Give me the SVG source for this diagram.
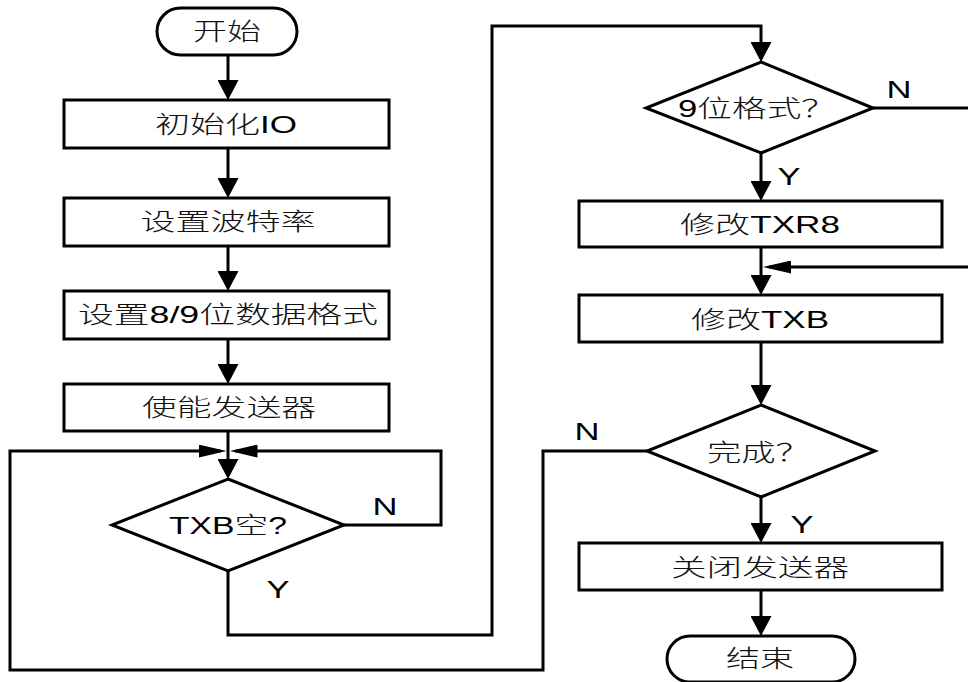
<svg xmlns="http://www.w3.org/2000/svg" width="968" height="682" viewBox="0 0 968 682">
<style>
.shape{fill:#fff;stroke:#000;stroke-width:3}
.conn{fill:none;stroke:#000;stroke-width:3}
text{font-family:'Liberation Sans','Noto Sans CJK SC',sans-serif;font-size:24px;fill:#000}
.k{font-family:'Noto Sans CJK SC',sans-serif;font-weight:300;fill:#111}
.c{text-anchor:middle}
</style>
<defs>
<marker id="arrV" markerUnits="userSpaceOnUse" markerWidth="20" markerHeight="21" viewBox="0 0 20 21" refX="14" refY="10.5" orient="auto"><path d="M0,0 L20,10.5 L0,21 Z" fill="#000"/></marker>
<marker id="arrH" markerUnits="userSpaceOnUse" markerWidth="28" markerHeight="13" viewBox="0 0 28 13" refX="22" refY="6.5" orient="auto"><path d="M0,0 L28,6.5 L0,13 Z" fill="#000"/></marker>
</defs>
<g id="connectors">
<path class="conn" d="M228,55 V94" marker-end="url(#arrV)"/>
<path class="conn" d="M228,148 V192" marker-end="url(#arrV)"/>
<path class="conn" d="M228,246 V285" marker-end="url(#arrV)"/>
<path class="conn" d="M228,339 V378" marker-end="url(#arrV)"/>
<path class="conn" d="M228,431 V473" marker-end="url(#arrV)"/>
<path class="conn" d="M647,451 H543 V670 H10 V451 H220.5" marker-end="url(#arrH)"/>
<path class="conn" d="M344,525 H441 V451 H235.5" marker-end="url(#arrH)"/>
<path class="conn" d="M228,571 V635 H492 V26 H761 V56" marker-end="url(#arrV)"/>
<path class="conn" d="M761,153 V195" marker-end="url(#arrV)"/>
<path class="conn" d="M873,108 H972 V267 H769" marker-end="url(#arrH)"/>
<path class="conn" d="M761,247 V289" marker-end="url(#arrV)"/>
<path class="conn" d="M761,342 V399" marker-end="url(#arrV)"/>
<path class="conn" d="M761,497 V537" marker-end="url(#arrV)"/>
<path class="conn" d="M761,590 V630" marker-end="url(#arrV)"/>
<text class="c" x="385" y="515" textLength="25" lengthAdjust="spacingAndGlyphs">N</text>
<text class="c" x="278" y="598" textLength="23" lengthAdjust="spacingAndGlyphs">Y</text>
<text class="c" x="899" y="98" textLength="25" lengthAdjust="spacingAndGlyphs">N</text>
<text class="c" x="789" y="185" textLength="23" lengthAdjust="spacingAndGlyphs">Y</text>
<text class="c" x="587" y="440" textLength="25" lengthAdjust="spacingAndGlyphs">N</text>
<text class="c" x="802" y="533" textLength="23" lengthAdjust="spacingAndGlyphs">Y</text>
</g>
<g id="start">
<rect class="shape" x="157" y="8" width="140" height="47" rx="23.5"/>
<text class="c" x="227" y="40" textLength="68" lengthAdjust="spacingAndGlyphs"><tspan class="k">开始</tspan></text>
</g>
<g id="initIO">
<rect class="shape" x="64" y="100" width="325" height="48"/>
<text class="c" x="226" y="133" textLength="142" lengthAdjust="spacingAndGlyphs"><tspan class="k">初始化</tspan>IO</text>
</g>
<g id="setBaud">
<rect class="shape" x="64" y="198" width="325" height="48"/>
<text class="c" x="228" y="230" textLength="175" lengthAdjust="spacingAndGlyphs"><tspan class="k">设置波特率</tspan></text>
</g>
<g id="setFormat">
<rect class="shape" x="64" y="291" width="325" height="48"/>
<text class="c" x="228" y="323" textLength="300" lengthAdjust="spacingAndGlyphs"><tspan class="k">设置</tspan>8/9<tspan class="k">位数据格式</tspan></text>
</g>
<g id="enableTx">
<rect class="shape" x="64" y="384" width="325" height="47"/>
<text class="c" x="229" y="416" textLength="174" lengthAdjust="spacingAndGlyphs"><tspan class="k">使能发送器</tspan></text>
</g>
<g id="txbEmpty">
<polygon class="shape" points="228,479 344,525 228,571 112,525"/>
<text class="c" x="228" y="534" textLength="118" lengthAdjust="spacingAndGlyphs">TXB<tspan class="k">空</tspan>?</text>
</g>
<g id="nineBit">
<polygon class="shape" points="761,62 873,108 761,153 646,108"/>
<text x="678" y="117" textLength="158" lengthAdjust="spacingAndGlyphs">9<tspan class="k">位格式？</tspan></text>
</g>
<g id="modTXR8">
<rect class="shape" x="579" y="201" width="363" height="46"/>
<text class="c" x="760" y="233" textLength="160" lengthAdjust="spacingAndGlyphs"><tspan class="k">修改</tspan>TXR8</text>
</g>
<g id="modTXB">
<rect class="shape" x="579" y="295" width="363" height="47"/>
<text class="c" x="760" y="328" textLength="138" lengthAdjust="spacingAndGlyphs"><tspan class="k">修改</tspan>TXB</text>
</g>
<g id="done">
<polygon class="shape" points="761,405 875,451 761,497 647,451"/>
<text x="707" y="461" textLength="103" lengthAdjust="spacingAndGlyphs"><tspan class="k">完成？</tspan></text>
</g>
<g id="closeTx">
<rect class="shape" x="579" y="543" width="363" height="47"/>
<text class="c" x="760" y="576" textLength="178" lengthAdjust="spacingAndGlyphs"><tspan class="k">关闭发送器</tspan></text>
</g>
<g id="end">
<rect class="shape" x="667" y="636" width="188" height="46" rx="23"/>
<text class="c" x="760" y="667" textLength="68" lengthAdjust="spacingAndGlyphs"><tspan class="k">结束</tspan></text>
</g>
</svg>
